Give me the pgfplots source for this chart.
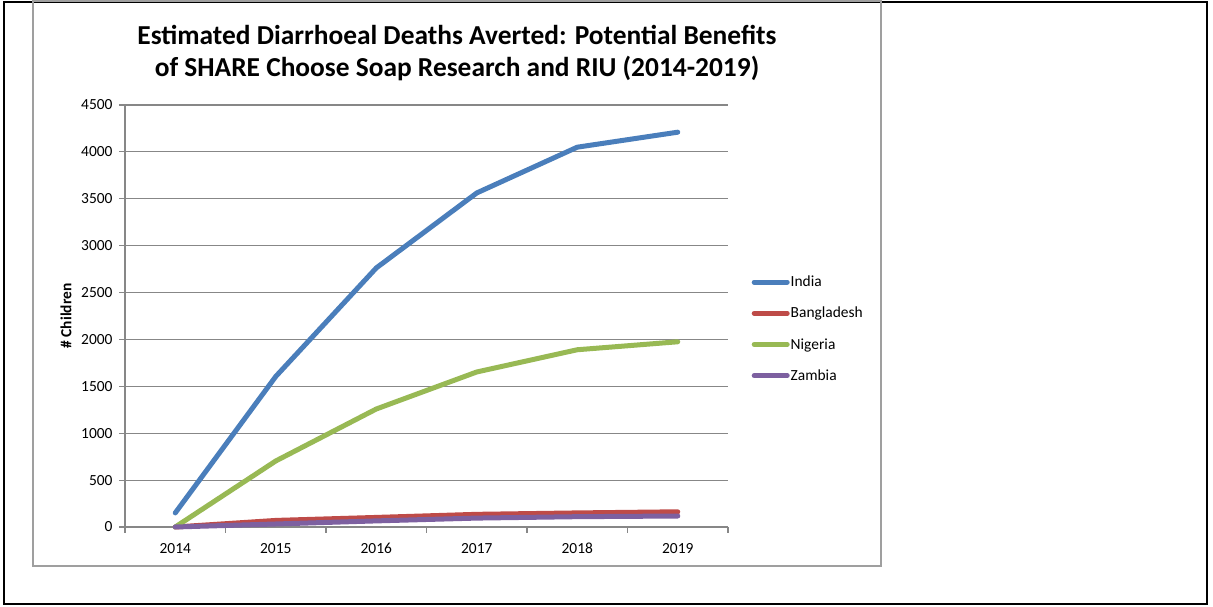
\documentclass[border=0pt]{standalone}
\usepackage{pgfplots}
\pgfplotsset{compat=1.18}
\usepackage{fontspec}
\setmainfont{Carlito}
\definecolor{cIndia}{HTML}{4A7EBB}
\definecolor{cBang}{HTML}{BE4B48}
\definecolor{cNig}{HTML}{98B954}
\definecolor{cZam}{HTML}{7D60A0}
\definecolor{gridc}{HTML}{878787}
\begin{document}
\begin{tikzpicture}[x=1bp,y=1bp]
\useasboundingbox (0,0) rectangle (1213,607);
\draw[black,line width=2.5bp] (4,3) rectangle (1207,605);
\draw[gridc!80,line width=1.5bp] (33,41) rectangle (881,606);
\node[font=\fontsize{27.5}{32}\selectfont\bfseries,align=center] at (457,554) {Estimated Diarrhoeal Deaths Averted: Potential Benefits\\of SHARE Choose Soap Research and RIU (2014-2019)};
\node[font=\fontsize{15.5}{18}\selectfont\bfseries,rotate=90] at (66,291) {\# Children};
\begin{axis}[
  at={(125bp,80bp)}, anchor=south west,
  scale only axis, width=603bp, height=422bp,
  xmin=-0.5, xmax=5.5, ymin=0, ymax=4500,
  clip=false,
  axis x line*=bottom, axis y line*=left,
  axis line style={gridc, line width=1.2bp},
  xtick={0,1,2,3,4,5},
  xticklabels={2014,2015,2016,2017,2018,2019},
  minor xtick={-0.5,0.5,1.5,2.5,3.5,4.5,5.5},
  major x tick style={draw=none},
  minor x tick style={gridc, line width=1.2bp},
  ytick={0,500,...,4500},
  major y tick style={gridc, line width=1.2bp},
  tick align=outside,
  major tick length=6bp, minor tick length=6bp,
  ymajorgrids, grid style={gridc, line width=1.2bp},
  tick label style={font=\fontsize{15.5}{18}\selectfont},
  /pgf/number format/assume math mode=true,
  /pgf/number format/1000 sep={},
  x tick label style={anchor=center, yshift=-17bp, text height=7.5bp, text depth=0pt},
  y tick label style={xshift=-3bp},
  legend style={draw=none, fill=none, at={(1.039,0.600)}, anchor=north west,
    font=\fontsize{15.5}{18}\selectfont, row sep=15bp, inner xsep=0pt, inner ysep=0pt,
    nodes={inner xsep=1bp}},
  legend cell align=left,
  legend image code/.code={\draw[#1, line cap=round] (0bp,0bp) -- (33bp,0bp);},
  every axis plot/.append style={line width=5bp, line cap=round, line join=round},
]
\addplot[cIndia] coordinates {(0,150) (1,1605) (2,2762) (3,3562) (4,4050) (5,4210)};
\addlegendentry{India}
\addplot[cBang] coordinates {(0,0) (1,70) (2,102) (3,135) (4,150) (5,162)};
\addlegendentry{Bangladesh}
\addplot[cNig] coordinates {(0,0) (1,704) (2,1258) (3,1653) (4,1890) (5,1975)};
\addlegendentry{Nigeria}
\addplot[cZam] coordinates {(0,0) (1,32) (2,65) (3,95) (4,110) (5,117)};
\addlegendentry{Zambia}
\end{axis}
\end{tikzpicture}
\end{document}
